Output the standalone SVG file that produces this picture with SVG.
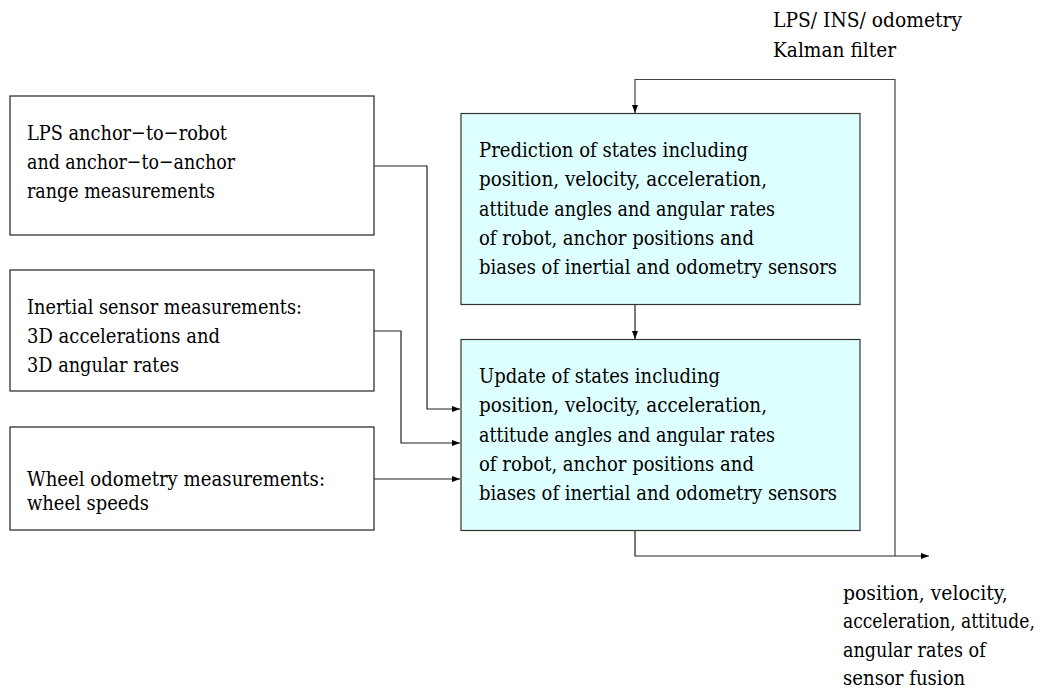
<svg xmlns="http://www.w3.org/2000/svg" width="1044" height="691" viewBox="0 0 1044 691">
<style>
  .box { fill: #ffffff; stroke: #222222; stroke-width: 1.2; }
  .kf { fill: #ddffff; stroke: #333333; stroke-width: 1.2; }
  text { font-family: 'DejaVu Serif', serif; font-size: 21px; fill: #000000; }
  .c { fill: none; stroke: #222222; stroke-width: 1.2; }
</style>
<defs>
  <marker id="ah" viewBox="0 0 8 6" refX="8" refY="3" markerWidth="8" markerHeight="6" markerUnits="userSpaceOnUse" orient="auto">
    <path d="M0,0 L8,3 L0,6 Z" fill="#000000"/>
  </marker>
</defs>
<rect width="1044" height="691" fill="#ffffff"/>

<g id="connectors">
  <polyline class="c" points="374,166 427,166 427,409 460,409" marker-end="url(#ah)"/>
  <polyline class="c" points="374,331 401,331 401,443 460,443" marker-end="url(#ah)"/>
  <polyline class="c" points="374,479 460,479" marker-end="url(#ah)"/>
  <polyline class="c" points="635,305 635,339" marker-end="url(#ah)"/>
  <polyline class="c" points="635,531 635,556 929,556" marker-end="url(#ah)"/>
  <polyline class="c" points="895,556 895,79.5 635,79.5 635,113" marker-end="url(#ah)" style="stroke:#444444"/>
</g>

<g id="lps">
  <rect class="box" x="10" y="96" width="364" height="139"/>
  <text x="27" y="140" textLength="200" lengthAdjust="spacingAndGlyphs">LPS anchor−to−robot</text>
  <text x="27" y="169" textLength="208" lengthAdjust="spacingAndGlyphs">and anchor−to−anchor</text>
  <text x="27" y="198" textLength="188" lengthAdjust="spacingAndGlyphs">range measurements</text>
</g>

<g id="inertial">
  <rect class="box" x="10" y="270" width="364" height="121"/>
  <text x="27" y="314" textLength="275" lengthAdjust="spacingAndGlyphs">Inertial sensor measurements:</text>
  <text x="27" y="343" textLength="193" lengthAdjust="spacingAndGlyphs">3D accelerations and</text>
  <text x="27" y="372" textLength="152" lengthAdjust="spacingAndGlyphs">3D angular rates</text>
</g>

<g id="wheel">
  <rect class="box" x="10" y="427" width="364" height="103"/>
  <text x="27" y="486" textLength="298" lengthAdjust="spacingAndGlyphs">Wheel odometry measurements:</text>
  <text x="27" y="510" textLength="122" lengthAdjust="spacingAndGlyphs">wheel speeds</text>
</g>

<g id="prediction">
  <rect class="kf" x="461" y="113.5" width="399" height="191"/>
  <text x="479" y="157" textLength="269" lengthAdjust="spacingAndGlyphs">Prediction of states including</text>
  <text x="479" y="186.3" textLength="288" lengthAdjust="spacingAndGlyphs">position, velocity, acceleration,</text>
  <text x="479" y="215.6" textLength="296" lengthAdjust="spacingAndGlyphs">attitude angles and angular rates</text>
  <text x="479" y="244.9" textLength="275" lengthAdjust="spacingAndGlyphs">of robot, anchor positions and</text>
  <text x="479" y="274.2" textLength="358" lengthAdjust="spacingAndGlyphs">biases of inertial and odometry sensors</text>
</g>

<g id="update">
  <rect class="kf" x="461" y="339.5" width="399" height="191"/>
  <text x="479" y="383" textLength="241" lengthAdjust="spacingAndGlyphs">Update of states including</text>
  <text x="479" y="412.3" textLength="288" lengthAdjust="spacingAndGlyphs">position, velocity, acceleration,</text>
  <text x="479" y="441.6" textLength="296" lengthAdjust="spacingAndGlyphs">attitude angles and angular rates</text>
  <text x="479" y="470.9" textLength="275" lengthAdjust="spacingAndGlyphs">of robot, anchor positions and</text>
  <text x="479" y="500.2" textLength="358" lengthAdjust="spacingAndGlyphs">biases of inertial and odometry sensors</text>
</g>

<g id="kalman-label">
  <text x="773" y="27" textLength="189" lengthAdjust="spacingAndGlyphs">LPS/ INS/ odometry</text>
  <text x="773" y="57" textLength="123" lengthAdjust="spacingAndGlyphs">Kalman filter</text>
</g>

<g id="output-label" transform="matrix(0.82 0 0 1 843 0)">
  <text x="0" y="600" textLength="201" lengthAdjust="spacingAndGlyphs">position, velocity,</text>
  <text x="0" y="628.5" textLength="234" lengthAdjust="spacingAndGlyphs">acceleration, attitude,</text>
  <text x="0" y="657" textLength="174" lengthAdjust="spacingAndGlyphs">angular rates of</text>
  <text x="0" y="685.5" textLength="149" lengthAdjust="spacingAndGlyphs">sensor fusion</text>
</g>
</svg>
